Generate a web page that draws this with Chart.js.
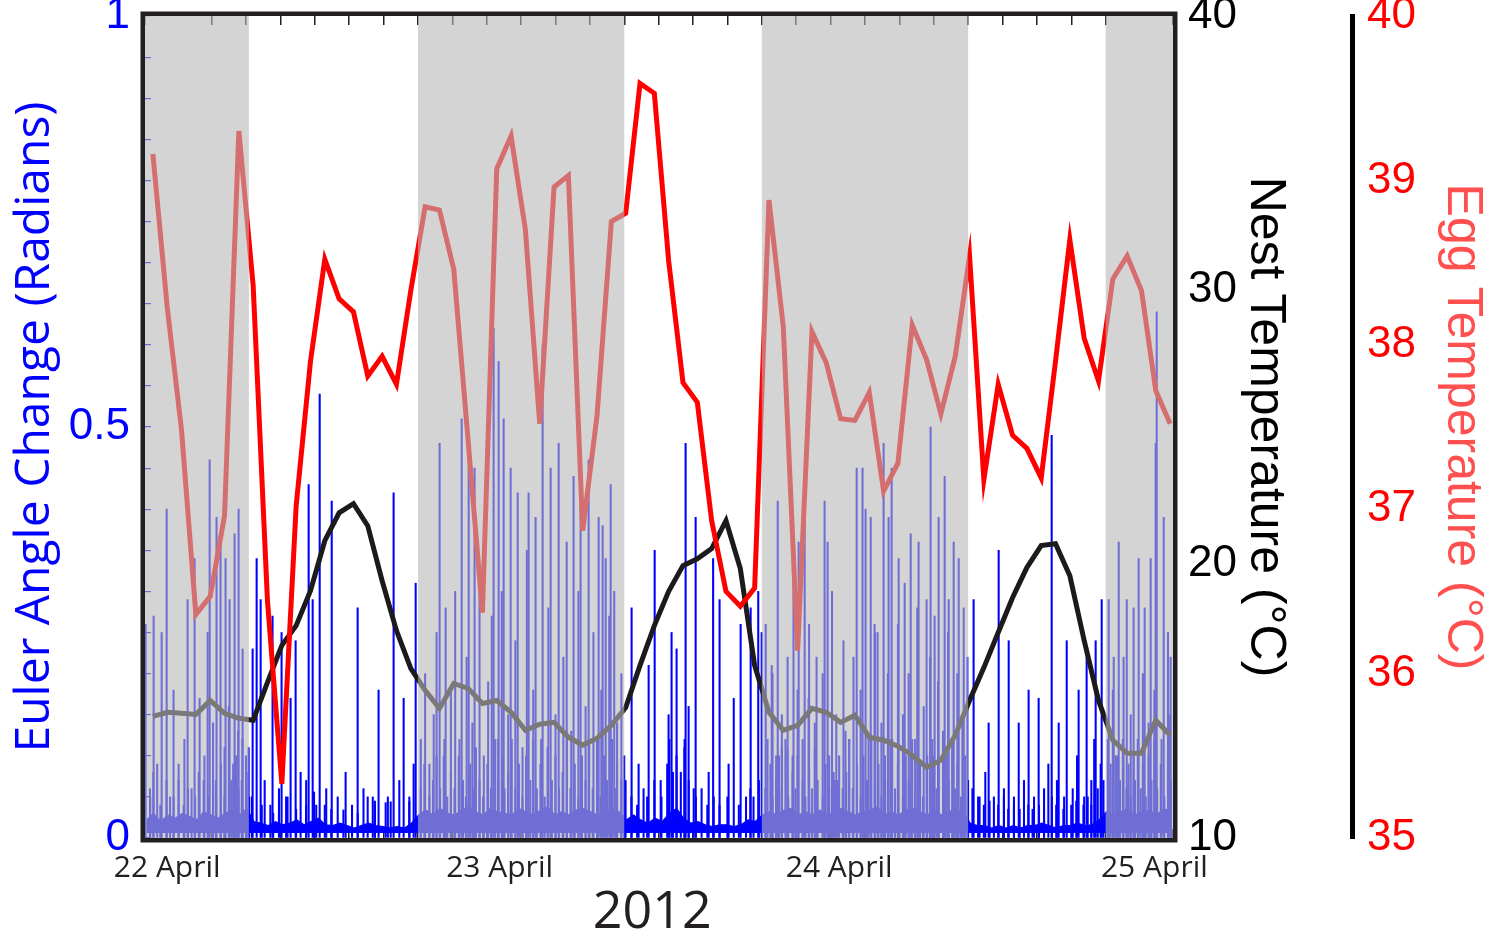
<!DOCTYPE html>
<html><head><meta charset="utf-8">
<script src="https://cdn.jsdelivr.net/npm/chart.js@4/dist/chart.umd.min.js"></script>
<style>html,body{margin:0;padding:0;background:#fff}</style>
</head><body>
<canvas id="c" width="1490" height="941"></canvas>
<script>
// ---- x axis (hours after 22 April 00:00) ----
const xMin = 0.15, xMax = 71.9;
const dateLabels = ['22 April', '23 April', '24 April', '25 April'];
const dateLabelHours = [1.7, 24.9, 48.6, 70.6];
const nightStart = [0.15, 19.2, 43.2, 67.2];
const nightEnd   = [7.4, 33.6, 57.6, 71.9];

// ---- hourly temperature samples ----
const tempHours = [0.7,1.7,2.7,3.7,4.7,5.7,6.7,7.7,8.7,9.7,10.7,11.7,12.7,13.7,14.7,15.7,16.7,17.7,18.7,19.7,20.7,21.7,22.7,23.7,
  24.7,25.7,26.7,27.7,28.7,29.7,30.7,31.7,32.7,33.7,34.7,35.7,36.7,37.7,38.7,39.7,40.7,41.7,42.7,43.7,44.7,45.7,46.7,47.7,
  48.7,49.7,50.7,51.7,52.7,53.7,54.7,55.7,56.7,57.7,58.7,59.7,60.7,61.7,62.7,63.7,64.7,65.7,66.7,67.7,68.7,69.7,70.7,71.7];
const eggTemp = [39.16,38.23,37.48,36.36,36.47,36.96,39.30,38.36,36.44,35.33,37.02,37.90,38.52,38.28,38.20,37.81,37.93,37.76,38.33,38.84,38.82,38.46,37.42,36.37,
  39.07,39.27,38.70,37.52,38.96,39.03,36.87,37.57,38.75,38.80,39.59,39.53,38.51,37.77,37.65,36.93,36.50,36.41,36.52,38.88,38.11,36.14,38.08,37.89,
  37.55,37.54,37.71,37.11,37.28,38.12,37.91,37.58,37.93,38.54,37.18,37.76,37.45,37.37,37.19,37.90,38.64,38.04,37.78,38.40,38.54,38.33,37.72,37.52];
const nestTemp = [14.44,14.59,14.55,14.51,15.02,14.55,14.37,14.30,15.68,17.03,17.75,19.03,20.85,21.87,22.20,21.39,19.39,17.57,16.19,15.39,14.73,15.64,15.46,14.91,
  15.02,14.59,13.93,14.15,14.22,13.68,13.39,13.64,14.11,14.76,16.30,17.75,19.00,19.94,20.19,20.56,21.58,19.83,16.30,14.59,13.93,14.11,14.73,14.59,
  14.22,14.48,13.68,13.57,13.35,13.02,12.58,12.84,13.75,15.02,16.22,17.50,18.77,19.87,20.67,20.74,19.57,17.21,15.02,13.57,13.09,13.09,14.30,13.75];

// ---- Euler angle change: background noise band (every 0.5 h) ----
const bandHours = [0.25,0.75,1.25,1.75,2.25,2.75,3.25,3.75,4.25,4.75,5.25,5.75,6.25,6.75,7.25,
  7.75,8.25,8.75,9.25,9.75,10.25,10.75,11.25,11.75,12.25,12.75,13.25,13.75,14.25,14.75,15.25,15.75,16.25,16.75,17.25,17.75,18.25,18.75,
  19.25,19.75,20.25,20.75,21.25,21.75,22.25,22.75,23.25,23.75,24.25,24.75,25.25,25.75,26.25,26.75,27.25,27.75,28.25,28.75,29.25,29.75,30.25,30.75,31.25,31.75,32.25,32.75,33.25,
  33.75,34.25,34.75,35.25,35.75,36.25,36.75,37.25,37.75,38.25,38.75,39.25,39.75,40.25,40.75,41.25,41.75,42.25,42.75,
  43.25,43.75,44.25,44.75,45.25,45.75,46.25,46.75,47.25,47.75,48.25,48.75,49.25,49.75,50.25,50.75,51.25,51.75,52.25,52.75,53.25,53.75,54.25,54.75,55.25,55.75,56.25,56.75,57.25,
  57.75,58.25,58.75,59.25,59.75,60.25,60.75,61.25,61.75,62.25,62.75,63.25,63.75,64.25,64.75,65.25,65.75,66.25,66.75,
  67.25,67.75,68.25,68.75,69.25,69.75,70.25,70.75,71.25,71.75];
const bandTop = [0.022,0.03,0.02,0.028,0.024,0.03,0.026,0.022,0.032,0.028,0.024,0.03,0.034,0.028,0.036,
  0.02,0.018,0.015,0.02,0.016,0.018,0.022,0.016,0.02,0.024,0.016,0.015,0.018,0.015,0.012,0.015,0.018,0.015,0.014,0.012,0.014,0.012,0.018,
  0.028,0.034,0.028,0.036,0.03,0.028,0.034,0.038,0.032,0.028,0.036,0.032,0.03,0.028,0.036,0.032,0.028,0.034,0.038,0.028,0.032,0.028,0.034,0.036,0.032,0.028,0.032,0.036,0.032,
  0.022,0.028,0.022,0.018,0.024,0.02,0.03,0.036,0.024,0.018,0.02,0.016,0.014,0.016,0.016,0.014,0.016,0.022,0.02,
  0.028,0.032,0.028,0.034,0.036,0.028,0.032,0.028,0.034,0.028,0.032,0.036,0.032,0.028,0.032,0.034,0.038,0.028,0.032,0.028,0.034,0.036,0.032,0.028,0.034,0.028,0.032,0.036,0.032,
  0.018,0.015,0.015,0.012,0.015,0.012,0.015,0.012,0.015,0.015,0.018,0.015,0.012,0.015,0.015,0.018,0.015,0.016,0.022,
  0.032,0.028,0.032,0.036,0.028,0.032,0.034,0.028,0.036,0.032];
const bandFloor = 0.006;

// ---- Euler angle change: large movement spikes ----
const spikeHours = [0.29,0.85,1.41,1.76,2.24,2.59,3.22,3.71,4.06,4.62,4.76,5.24,5.52,5.87,6.15,6.50,6.78,7.06,
  7.48,7.76,8.04,8.32,8.60,9.15,9.78,10.41,10.76,11.11,11.67,11.95,12.44,13.28,14.25,15.09,15.79,16.55,17.60,18.30,19.14,
  20.81,21.23,22.35,22.84,23.25,24.58,24.93,25.28,25.77,26.26,27.02,27.51,28.0,28.56,29.12,29.68,30.16,30.65,31.21,31.91,32.19,32.40,32.75,
  33.79,34.21,34.70,35.40,35.82,36.24,36.79,37.0,37.35,37.91,37.98,38.19,38.68,39.59,39.9,40.35,40.98,41.34,41.82,42.52,42.72,43.05,
  43.29,43.57,43.99,44.41,44.69,45.09,45.51,45.87,46.29,46.56,47.12,47.68,47.89,48.31,48.58,49.14,49.92,50.33,50.54,50.9,51.17,51.38,51.8,52.15,52.36,52.85,53.27,53.69,54.24,54.8,55.08,55.36,55.64,56.06,56.34,56.69,57.04,57.39,
  58.08,59.13,59.83,60.53,61.23,61.92,62.62,63.53,64.02,64.58,65.41,65.97,66.6,67.02,
  67.51,67.86,68.21,68.77,69.25,69.6,70.02,70.44,70.79,70.86,71.35,71.83];
const spikeValues = [0.26,0.27,0.25,0.40,0.18,0.07,0.29,0.34,0.17,0.25,0.46,0.39,0.37,0.34,0.29,0.37,0.40,0.23,
  0.11,0.23,0.34,0.29,0.07,0.27,0.25,0.17,0.24,0.08,0.43,0.29,0.54,0.41,0.08,0.28,0.05,0.18,0.42,0.17,0.31,
  0.48,0.28,0.51,0.48,0.45,0.62,0.58,0.51,0.45,0.42,0.42,0.39,0.60,0.45,0.48,0.36,0.44,0.41,0.46,0.39,0.38,0.34,0.43,
  0.07,0.28,0.09,0.21,0.35,0.07,0.15,0.25,0.23,0.12,0.48,0.16,0.39,0.08,0.34,0.29,0.09,0.17,0.26,0.28,0.05,0.30,
  0.25,0.26,0.21,0.41,0.11,0.11,0.34,0.36,0.39,0.17,0.22,0.41,0.36,0.08,0.07,0.13,0.45,0.45,0.40,0.39,0.26,0.25,0.48,0.39,0.45,0.34,0.31,0.37,0.36,0.29,0.50,0.27,0.39,0.44,0.29,0.36,0.34,0.28,
  0.29,0.14,0.35,0.24,0.14,0.18,0.17,0.49,0.14,0.24,0.18,0.22,0.24,0.29,
  0.29,0.22,0.36,0.29,0.28,0.34,0.28,0.34,0.48,0.64,0.39,0.22];

// ---- Euler angle change: medium movement spikes ----
const minorHours = [0.5,1.0,1.9,2.9,3.4,3.9,4.3,4.9,5.1,5.7,6.0,6.3,6.65,6.9,7.2,
  7.6,8.9,9.5,10.1,11.4,12.1,12.8,13.6,14.6,15.4,16.2,17.1,17.9,18.6,18.9,
  19.4,19.7,20.0,20.3,20.5,21.0,21.5,21.8,22.1,22.6,23.0,23.5,23.8,24.1,24.35,24.8,25.05,25.5,26.0,26.5,26.8,27.25,27.8,28.3,28.8,29.35,29.9,30.4,30.9,31.45,31.7,32.0,32.55,32.9,33.1,33.4,
  43.6,43.95,44.2,44.6,45.0,45.35,45.7,46.05,46.5,46.9,47.45,47.9,48.1,48.4,48.9,49.3,49.6,50.1,50.65,51.1,51.55,52.0,52.3,52.7,53.05,53.45,53.9,54.05,54.5,54.95,55.2,55.5,55.85,56.2,56.5,56.85,57.2,57.55,
  57.9,58.4,58.8,59.4,60.1,60.8,61.5,62.2,62.9,63.2,63.8,64.3,64.9,65.2,65.7,66.2,66.4,66.85,
  67.35,67.7,68.0,68.45,68.95,69.45,69.8,70.2,70.6,71.1,71.55,71.7];
const minorValues = [0.06,0.09,0.05,0.12,0.06,0.08,0.10,0.14,0.07,0.11,0.16,0.09,0.13,0.07,0.10,
  0.05,0.04,0.06,0.05,0.07,0.04,0.06,0.05,0.04,0.06,0.04,0.05,0.07,0.05,0.09,
  0.12,0.20,0.09,0.15,0.25,0.10,0.18,0.30,0.12,0.22,0.14,0.33,0.10,0.19,0.27,0.12,0.30,0.15,0.24,0.11,0.35,0.18,0.12,0.28,0.15,0.22,0.13,0.30,0.16,0.25,0.12,0.18,0.27,0.30,0.14,0.20,
  0.12,0.20,0.10,0.15,0.22,0.10,0.18,0.12,0.26,0.14,0.20,0.10,0.30,0.15,0.24,0.12,0.22,0.18,0.12,0.25,0.14,0.20,0.12,0.26,0.15,0.20,0.12,0.28,0.16,0.22,0.10,0.19,0.13,0.25,0.12,0.20,0.15,0.22,
  0.06,0.05,0.08,0.05,0.06,0.05,0.07,0.05,0.06,0.09,0.07,0.05,0.06,0.10,0.05,0.07,0.12,0.09,
  0.12,0.18,0.10,0.22,0.15,0.12,0.20,0.14,0.18,0.12,0.25,0.15];

// ---- Euler angle change: small movement spikes ----
const smallHours = [0.42,0.63,1.12,1.55,2.05,2.4,2.75,3.05,3.55,4.15,4.45,5.0,5.35,5.6,6.08,6.4,6.58,6.85,7.15,7.3,
  8.2,9.0,9.9,10.6,11.3,11.85,12.6,13.05,13.9,14.9,15.95,16.1,16.85,17.2,18.5,
  19.3,19.55,19.9,20.15,20.4,20.65,20.95,21.15,21.4,21.65,21.95,22.25,22.45,22.75,22.95,23.15,23.4,23.65,23.95,24.2,24.5,24.7,24.98,25.15,25.4,25.65,25.9,26.15,26.4,26.65,26.95,27.15,27.4,27.65,27.95,28.15,28.45,28.7,28.95,29.2,29.5,29.75,30.05,30.3,30.55,30.8,31.05,31.3,31.6,31.85,32.1,32.3,32.65,32.85,33.0,33.3,33.5,
  34.0,34.4,34.85,35.1,35.6,36.1,36.5,36.65,36.9,37.15,37.45,37.7,38.0,38.35,38.5,38.9,39.3,39.75,40.15,40.7,41.5,42.0,42.3,42.9,
  43.35,43.7,43.85,44.1,44.3,44.5,44.75,44.95,45.25,45.45,45.6,45.95,46.15,46.4,46.6,46.8,47.0,47.35,47.55,47.8,48.0,48.2,48.5,48.75,49.0,49.2,49.45,49.75,50.0,50.2,50.45,50.75,51.0,51.25,51.45,51.7,51.9,52.1,52.4,52.6,52.95,53.15,53.35,53.6,53.8,54.15,54.35,54.65,54.85,55.0,55.3,55.45,55.75,55.95,56.15,56.4,56.6,56.75,57.0,57.3,57.5,
  58.2,58.6,59.0,59.6,60.0,60.3,60.7,61.1,61.7,62.0,62.45,62.8,63.35,63.65,64.15,64.7,65.05,65.55,65.85,66.1,66.55,66.95,
  67.3,67.45,67.6,67.8,68.1,68.3,68.55,68.7,68.85,69.05,69.15,69.35,69.55,69.7,69.9,70.1,70.3,70.5,70.7,70.95,71.2,71.45,71.65];
const smallValues = [0.05,0.08,0.04,0.07,0.05,0.09,0.04,0.06,0.05,0.07,0.05,0.06,0.09,0.05,0.07,0.10,0.06,0.12,0.08,0.05,
  0.04,0.03,0.05,0.035,0.04,0.056,0.04,0.035,0.034,0.03,0.05,0.045,0.043,0.044,0.044,
  0.06,0.09,0.05,0.07,0.10,0.06,0.12,0.05,0.08,0.06,0.10,0.07,0.05,0.09,0.06,0.11,0.07,0.05,0.09,0.06,0.12,0.07,0.10,0.06,0.08,0.12,0.06,0.09,0.05,0.10,0.07,0.12,0.06,0.09,0.05,0.11,0.07,0.10,0.06,0.08,0.12,0.06,0.09,0.05,0.10,0.07,0.12,0.06,0.09,0.05,0.10,0.07,0.12,0.06,0.09,0.07,0.10,
  0.05,0.04,0.06,0.05,0.07,0.05,0.09,0.12,0.08,0.10,0.08,0.11,0.07,0.06,0.05,0.06,0.04,0.05,0.04,0.05,0.04,0.05,0.06,0.07,
  0.06,0.09,0.05,0.07,0.10,0.06,0.12,0.05,0.08,0.06,0.10,0.07,0.05,0.09,0.06,0.11,0.07,0.05,0.09,0.06,0.12,0.07,0.10,0.06,0.08,0.12,0.06,0.09,0.05,0.10,0.07,0.12,0.06,0.09,0.05,0.10,0.07,0.12,0.06,0.09,0.05,0.10,0.07,0.12,0.06,0.09,0.05,0.10,0.07,0.12,0.06,0.09,0.05,0.10,0.07,0.12,0.06,0.09,0.05,0.10,0.07,
  0.05,0.04,0.045,0.04,0.05,0.035,0.04,0.035,0.04,0.035,0.04,0.035,0.05,0.04,0.035,0.04,0.045,0.04,0.05,0.04,0.06,0.07,
  0.06,0.09,0.05,0.10,0.07,0.12,0.06,0.09,0.05,0.10,0.07,0.12,0.06,0.09,0.05,0.10,0.07,0.12,0.06,0.09,0.05,0.10,0.07];

const pts = (xs, ys) => xs.map((x, i) => ({x, y: ys[i]}));

const nightShade = {
  id: 'nightShade',
  afterDatasetsDraw(chart) {
    const {ctx, chartArea: a, scales: {x}} = chart;
    ctx.save();
    ctx.beginPath(); ctx.rect(a.left, a.top, a.right - a.left, a.bottom - a.top); ctx.clip();
    ctx.fillStyle = 'rgba(185,183,185,0.6)';
    nightStart.forEach((s, i) => {
      const x0 = x.getPixelForValue(s), x1 = x.getPixelForValue(nightEnd[i]);
      ctx.fillRect(x0, a.top, x1 - x0, a.bottom - a.top);
    });
    ctx.restore();
  }
};
const frame = {
  id: 'frame',
  afterDraw(chart) {
    const {ctx, chartArea: a} = chart;
    ctx.save();
    ctx.strokeStyle = '#231f20'; ctx.lineWidth = 4.5;
    ctx.strokeRect(a.left - 2.25, a.top - 2.25, a.right - a.left + 4.5, a.bottom - a.top + 4.5);
    ctx.restore();
  }
};

const noPadX = s => { s.paddingLeft = 0; s.paddingRight = 0; };
const noPadY = s => { s.paddingTop = 0; s.paddingBottom = 0; };

const tickAxis = (pos, h) => ({
  type: 'linear', position: pos, min: xMin, max: xMax, offset: false, weight: 0,
  ticks: {display: false, stepSize: 2.4},
  grid: {drawOnChartArea: false, drawTicks: true, tickLength: -9, color: '#231f20', lineWidth: 1.5, offset: false},
  border: {display: false},
  afterFit: s => { s.height = h; noPadX(s); }
});

const barSet = (label, xs, ys, order) => ({type: 'bar', label, data: pts(xs, ys), yAxisID: 'y', xAxisID: 'x',
  backgroundColor: '#0000ff', barThickness: 1.4, order});

new Chart(document.getElementById('c'), {
  type: 'line',
  data: {
    datasets: [
      {type: 'line', label: 'Egg', data: pts(tempHours, eggTemp), yAxisID: 'yEgg', xAxisID: 'x',
        borderColor: '#ff0000', borderWidth: 5, pointRadius: 0, tension: 0, order: 0},
      {type: 'line', label: 'Nest', data: pts(tempHours, nestTemp), yAxisID: 'yNest', xAxisID: 'x',
        borderColor: '#1c1a1b', borderWidth: 5, pointRadius: 0, tension: 0, order: 1},
      {type: 'line', label: 'Euler band', data: pts(bandHours, bandTop), yAxisID: 'y', xAxisID: 'x',
        borderColor: '#0000ff', backgroundColor: '#0000ff', borderWidth: 1.2, pointRadius: 0, tension: 0,
        fill: {value: bandFloor}, order: 2},
      barSet('Euler spikes', spikeHours, spikeValues, 3),
      barSet('Euler medium spikes', minorHours, minorValues, 4),
      barSet('Euler small spikes', smallHours, smallValues, 5)
    ]
  },
  options: {
    responsive: false, animation: false, devicePixelRatio: 1,
    layout: {padding: 0},
    plugins: {legend: {display: false}, tooltip: {enabled: false}},
    scales: {
      x: tickAxis('bottom', 3),
      xTop: tickAxis('top', 16),
      xLab: {
        type: 'linear', position: 'bottom', min: xMin, max: xMax, offset: false, weight: 1,
        afterBuildTicks: s => { s.ticks = dateLabelHours.map(v => ({value: v})); },
        ticks: {callback: (v, i) => dateLabels[i], autoSkip: false, maxRotation: 0, minRotation: 0,
          font: {family: 'Open Sans', size: 30}, color: '#231f20', padding: 9},
        grid: {display: false, drawTicks: false, offset: false},
        border: {display: false},
        title: {display: true, text: '2012 ', color: '#231f20', font: {family: 'Open Sans', size: 52, lineHeight: 1}, padding: {top: 0, bottom: 2}},
        afterFit: s => { s.height = 100; noPadX(s); }
      },
      y: {
        type: 'linear', position: 'left', min: 0, max: 1, beginAtZero: true,
        ticks: {stepSize: 0.05, autoSkip: false, color: '#0000ff', font: {family: 'Liberation Sans', size: 44}, padding: 21,
          callback: v => (Math.abs(v) < 1e-6 ? '0' : Math.abs(v - 0.5) < 1e-6 ? '0.5' : Math.abs(v - 1) < 1e-6 ? '1' : '')},
        grid: {drawOnChartArea: false, drawTicks: true, tickLength: -6, color: '#0000ff', lineWidth: 1.2},
        border: {display: false},
        title: {display: true, text: 'Euler Angle Change (Radians)', color: '#0000ff', font: {family: 'Open Sans', size: 48, lineHeight: 1.2}, padding: {top: 7}},
        afterFit: s => { s.width = 145; noPadY(s); }
      },
      yNest: {
        type: 'linear', position: 'right', min: 10, max: 40, weight: 0,
        ticks: {stepSize: 10, color: '#000', font: {family: 'Liberation Sans', size: 44}, padding: 15},
        grid: {drawOnChartArea: false, drawTicks: false},
        border: {display: false},
        title: {display: true, text: 'Nest Temperature (°C)', color: '#000', font: {family: 'Liberation Sans', size: 50, lineHeight: 1.2}, padding: {top: 57}},
        afterFit: s => { s.width = 179; noPadY(s); }
      },
      yEgg: {
        type: 'linear', position: 'right', min: 35, max: 40, weight: 1,
        ticks: {stepSize: 1, color: '#ff0000', font: {family: 'Liberation Sans', size: 44}, padding: 15},
        grid: {drawOnChartArea: false, drawTicks: false},
        border: {display: true, color: '#000', width: 5},
        title: {display: true, text: 'Egg Temperature (°C)', color: '#ff4f4f', font: {family: 'Liberation Sans', size: 50, lineHeight: 1}, padding: {top: 3}},
        afterFit: s => { s.width = 138; noPadY(s); }
      }
    }
  },
  plugins: [nightShade, frame]
});
</script>
</body></html>
